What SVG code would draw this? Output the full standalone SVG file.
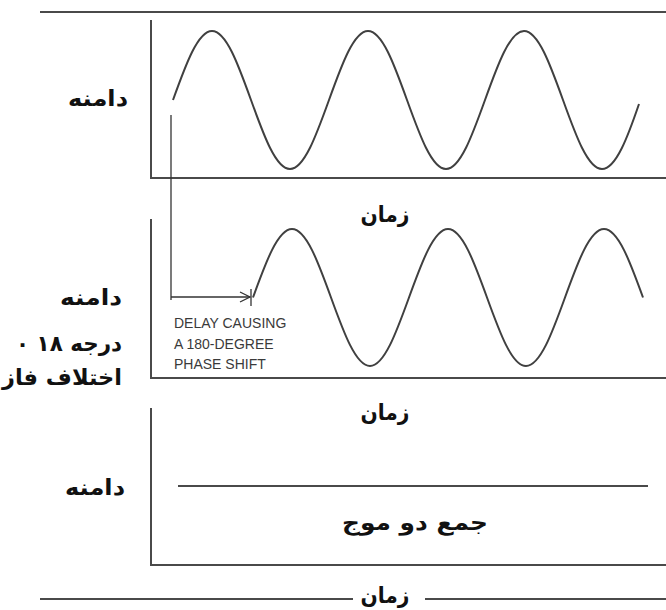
<svg xmlns="http://www.w3.org/2000/svg" width="666" height="610" viewBox="0 0 666 610">
<style>
.ax{stroke:#4a4a4a;stroke-width:2;fill:none}
.wave{stroke:#404040;stroke-width:2;fill:none}
.thin{stroke:#333;stroke-width:1.3;fill:none}
.fa{font-family:"DejaVu Sans","Noto Sans",sans-serif;font-weight:bold;font-size:22px;fill:#111;text-anchor:middle}
.end{text-anchor:end}
.en{font-family:"Liberation Sans",Arial,sans-serif;font-size:14px;fill:#3a3a3a}
</style>
<rect width="666" height="610" fill="#fff"/>
<g id="top-line"><line class="ax" x1="40" y1="12" x2="666" y2="12"/></g>
<g id="panel1">
<polyline class="ax" points="151,20 151,178 666,178"/>
<path class="wave" d="M173,100 c12.72,-35.35 24.89,-69 39,-69 c14.11,0 26.28,33.65 39,69 c12.72,35.35 24.89,69 39,69 c14.11,0 26.28,-33.65 39,-69 c12.72,-35.350 24.89,-69 39,-69 c14.11,0 26.28,33.65 39,69 c12.72,35.35 24.89,69 39,69 c14.11,0 26.28,-33.65 39,-69 c12.72,-35.35 24.89,-69 39,-69 c14.11,0 26.28,33.65 39,69 c12.72,35.35 24.89,69 39,69 c14.11,0 26.28,-33.65 37,-65"/>
<text class="fa" x="98" y="106" textLength="60" lengthAdjust="spacingAndGlyphs">دامنه</text>
<text class="fa" x="385" y="222" textLength="49" lengthAdjust="spacingAndGlyphs">زمان</text>
</g>
<g id="panel2">
<polyline class="ax" points="151,219 151,378 666,378"/>
<path class="wave" d="M253,297.5 c12.72,-35.1 24.89,-68.5 39,-68.5 c14.11,0 26.28,33.4 39,68.5 c12.72,35.1 24.89,68.5 39,68.5 c14.11,0 26.28,-33.4 39,-68.5 c12.72,-35.1 24.89,-68.5 39,-68.5 c14.11,0 26.28,33.4 39,68.5 c12.72,35.1 24.89,68.5 39,68.5 c14.11,0 26.28,-33.4 39,-68.5 c12.72,-35.1 24.89,-68.5 39,-68.5 c14.11,0 26.28,33.4 39,68.5"/>
<text class="fa end" x="122" y="305" textLength="62" lengthAdjust="spacingAndGlyphs">دامنه</text>
<text class="fa end" x="122" y="351" textLength="106" lengthAdjust="spacingAndGlyphs">۰ ۱۸ درجه</text>
<text class="fa end" x="122" y="385" textLength="120" lengthAdjust="spacingAndGlyphs">اختلاف فاز</text>
<text class="fa" x="385" y="420" textLength="49" lengthAdjust="spacingAndGlyphs">زمان</text>
</g>
<g id="delay">
<line class="thin" x1="171" y1="115" x2="171" y2="300"/>
<line class="thin" x1="171" y1="297" x2="250" y2="297"/>
<polyline class="thin" points="240,292 250,297 240,302"/>
<line class="thin" x1="251" y1="289" x2="251" y2="306"/>
<text class="en" x="174" y="328">DELAY CAUSING</text>
<text class="en" x="174" y="349">A 180-DEGREE</text>
<text class="en" x="174" y="369">PHASE SHIFT</text>
</g>
<g id="panel3">
<polyline class="ax" points="151,408 151,565 666,565"/>
<line class="ax" x1="178" y1="486" x2="648" y2="486"/>
<text class="fa" x="95" y="495" textLength="60" lengthAdjust="spacingAndGlyphs">دامنه</text>
<text class="fa" x="415" y="530" textLength="146" lengthAdjust="spacingAndGlyphs">جمع دو موج</text>
</g>
<g id="bottom-axis">
<line class="ax" x1="40" y1="599" x2="353" y2="599"/>
<line class="ax" x1="425" y1="599" x2="666" y2="599"/>
<text class="fa" x="385" y="603" textLength="49" lengthAdjust="spacingAndGlyphs">زمان</text>
</g>
</svg>
